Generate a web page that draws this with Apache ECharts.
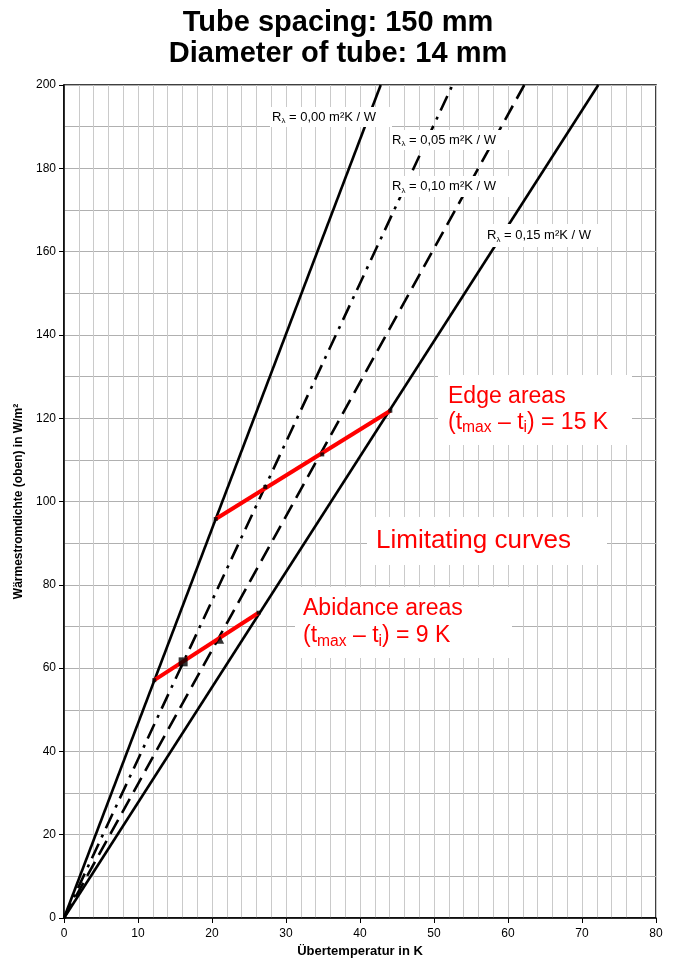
<!DOCTYPE html>
<html>
<head>
<meta charset="utf-8">
<script src="https://cdn.jsdelivr.net/npm/echarts@6/dist/echarts.min.js"></script>
<style>
  html, body { margin: 0; padding: 0; background: #fff; }
  #chart { width: 676px; height: 967px; }
</style>
</head>
<body>
<div id="chart"></div>
<script>
// limit lines (from origin to the top of the plot)
const lineR000 = [[0, 0], [42.8, 200]];
const lineR005 = [[0, 0], [52.5, 200]];
const lineR010 = [[0, 0], [62.2, 200]];
const lineR015 = [[0, 0], [72.2, 200]];

// red limitating curves
const edgeLine = [[20.5, 95.8], [44.1, 121.8]];
const abidanceLine = [[12.2, 57.1], [26.3, 73.3]];

// black markers at the crossings
const bigSquares = [[16.1, 61.5]];
const smallSquares = [[27.2, 103.5], [34.9, 111.3], [20.5, 95.8], [44.1, 121.8], [12.2, 57.1], [26.3, 73.3]];
const triangles = [[21.1, 66.8]];

const rValues = ['0,00', '0,05', '0,10', '0,15'];
const xTicks = [0, 10, 20, 30, 40, 50, 60, 70, 80];
const yTicks = [0, 20, 40, 60, 80, 100, 120, 140, 160, 180, 200];

const FONT = 'Liberation Sans, Arial, sans-serif';

function rLabel(i, x, y, w, h) {
    return [
        { type: 'rect', z: 100, shape: { x: x, y: y, width: w, height: h }, style: { fill: '#fff' } },
        {
            type: 'text', z: 101, x: x + 2, y: y + h / 2,
            style: {
                text: '{r|R}{s|λ}{r| = ' + rValues[i] + ' m²K / W}',
                verticalAlign: 'middle',
                rich: {
                    r: { fontFamily: FONT, fontSize: 13, lineHeight: 16, fill: '#000' },
                    s: { fontFamily: FONT, fontSize: 8, lineHeight: 9, verticalAlign: 'bottom', fill: '#000' }
                }
            }
        }
    ];
}

function redBox(x, y, w, h, text, size, lh, padLeft) {
    return [
        { type: 'rect', z: 100, shape: { x: x, y: y, width: w, height: h }, style: { fill: '#fff' } },
        {
            type: 'text', z: 101, x: x + padLeft, y: y + h / 2,
            style: {
                text: text,
                verticalAlign: 'middle',
                rich: {
                    t: { fontFamily: FONT, fontSize: size, lineHeight: lh, fill: '#ff0000' },
                    s: { fontFamily: FONT, fontSize: size * 0.68, lineHeight: size * 0.68, verticalAlign: 'bottom', fill: '#ff0000' }
                }
            }
        }
    ];
}

const chart = echarts.init(document.getElementById('chart'));

const blackLine = (name, data, type) => ({
    name: name,
    type: 'line',
    data: data,
    symbol: 'none',
    z: 3,
    lineStyle: { color: '#000', width: 2.6, type: type, cap: 'butt' }
});

const option = {
    animation: false,
    backgroundColor: '#fff',
    title: {
        text: 'Tube spacing: 150 mm\nDiameter of tube: 14 mm',
        left: 'center',
        top: 2,
        textStyle: { fontFamily: FONT, fontSize: 29, fontWeight: 'bold', color: '#000', lineHeight: 31 }
    },
    grid: {
        left: 64, right: 20, top: 85, bottom: 49,
        show: true, borderColor: '#000', borderWidth: 1.5
    },
    xAxis: {
        type: 'value',
        min: xTicks[0], max: xTicks[xTicks.length - 1], interval: 10,
        name: 'Übertemperatur in K',
        nameLocation: 'middle',
        nameGap: 27,
        nameTextStyle: { fontFamily: FONT, fontSize: 13, fontWeight: 'bold', color: '#000' },
        axisLine: { onZero: false, lineStyle: { color: '#000', width: 1.5 } },
        axisTick: { show: true, length: 5, lineStyle: { color: '#000' } },
        axisLabel: { margin: 10, fontFamily: FONT, fontSize: 12, color: '#000' },
        splitLine: { show: true, lineStyle: { color: '#cacaca', width: 1 } },
        minorTick: { show: false, splitNumber: 5 },
        minorSplitLine: { show: true, lineStyle: { color: '#cacaca', width: 1 } }
    },
    yAxis: {
        type: 'value',
        min: yTicks[0], max: yTicks[yTicks.length - 1], interval: 20,
        name: 'Wärmestromdichte (oben) in W/m²',
        nameLocation: 'middle',
        nameRotate: 90,
        nameGap: 38,
        nameTextStyle: { fontFamily: FONT, fontSize: 12, fontWeight: 'bold', color: '#000' },
        axisLine: { onZero: false, lineStyle: { color: '#000', width: 1.5 } },
        axisTick: { show: true, length: 5, lineStyle: { color: '#000' } },
        axisLabel: { margin: 8, fontFamily: FONT, fontSize: 12, color: '#000' },
        splitLine: { show: true, lineStyle: { color: '#b0b0b0', width: 1 } },
        minorTick: { show: false, splitNumber: 2 },
        minorSplitLine: { show: true, lineStyle: { color: '#b0b0b0', width: 1 } }
    },
    series: [
        blackLine('R 0,00', lineR000, 'solid'),
        blackLine('R 0,05', lineR005, [16, 7, 3, 7]),
        blackLine('R 0,10', lineR010, [16, 8]),
        blackLine('R 0,15', lineR015, 'solid'),
        {
            name: 'Edge areas', type: 'line', data: edgeLine, symbol: 'none', z: 4,
            lineStyle: { color: '#ff0000', width: 4, cap: 'butt' }
        },
        {
            name: 'Abidance areas', type: 'line', data: abidanceLine, symbol: 'none', z: 4,
            lineStyle: { color: '#ff0000', width: 4, cap: 'butt' }
        },
        {
            type: 'scatter', data: bigSquares, symbol: 'rect', symbolSize: 9, z: 5,
            itemStyle: { color: '#000' }
        },
        {
            type: 'scatter', data: smallSquares, symbol: 'rect', symbolSize: 4, z: 5,
            itemStyle: { color: '#000' }
        },
        {
            type: 'scatter', data: triangles, symbol: 'triangle', symbolSize: 8, z: 5,
            itemStyle: { color: '#000' }
        }
    ],
    graphic: [].concat(
        rLabel(0, 270, 107, 122, 20),
        rLabel(1, 390, 130, 122, 20),
        rLabel(2, 390, 176, 122, 21),
        rLabel(3, 485, 224, 122, 23),
        redBox(438, 375, 194, 70, '{t|Edge areas}\n{t|(t}{s|max}{t| – t}{s|i}{t|) = 15 K}', 23, 26, 10),
        redBox(367, 517, 240, 48, '{t|Limitating curves}', 26, 30, 9),
        redBox(295, 587, 217, 71, '{t|Abidance areas}\n{t|(t}{s|max}{t| – t}{s|i}{t|) = 9 K}', 23, 27, 8)
    )
};

chart.setOption(option);
</script>
</body>
</html>
